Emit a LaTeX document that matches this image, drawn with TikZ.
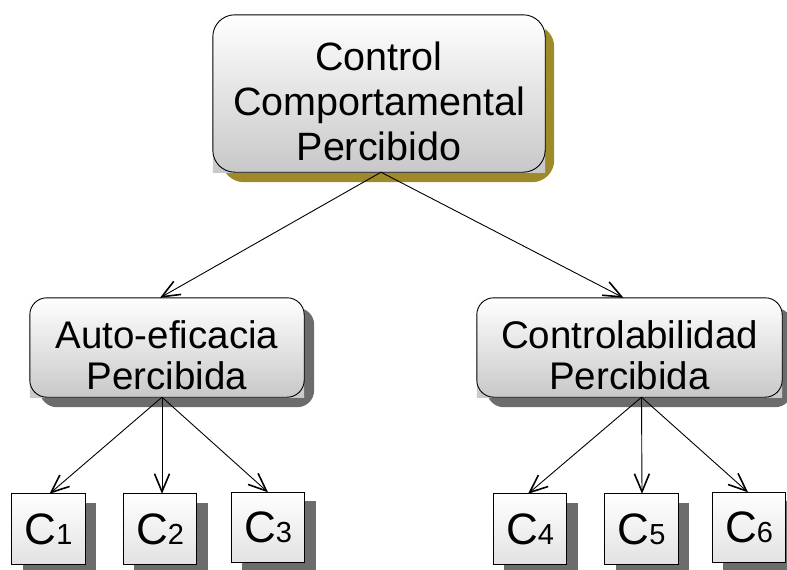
\documentclass[tikz,border=0pt]{standalone}
\usepackage{fontspec}
\setmainfont{Liberation Sans}
\usetikzlibrary{arrows.meta,backgrounds}

\definecolor{goldshadow}{RGB}{158,138,40}
\definecolor{greyshadow}{RGB}{108,108,108}
\definecolor{panelgrey}{RGB}{200,200,200}
\definecolor{cellgrey}{RGB}{226,226,226}

\tikzset{
  link/.style={line width=0.9pt, arrows={-Straight Barb[length=18pt, width=15pt, line width=1.6pt]}},
  boxline/.style={draw=black, line width=0.9pt},
  panel/.style={inner sep=0pt},
  bigtext/.style={inner sep=0pt, align=center, font=\fontsize{39.5}{45}\selectfont},
  midtext/.style={inner sep=0pt, align=center, font=\fontsize{38.5}{41}\selectfont},
  celltext/.style={inner sep=0pt, minimum width=73pt, minimum height=70pt}
}

% shadow, square gradient fill and (rounded) outline behind a node
\newcommand\drawpanel[6]{%
  \fill[#3, rounded corners=#2]
    ([shift={(#5,#6)}]#1.north west) rectangle ([shift={(#5,#6)}]#1.south east);
  \shade[top color=white, bottom color=#4] (#1.north west) rectangle (#1.south east);
  \draw[boxline, rounded corners=#2] (#1.north west) rectangle (#1.south east);
}

\begin{document}
\begin{tikzpicture}[x=1pt, y=-1pt]

\useasboundingbox (0,0) rectangle (787,570);

% top concept
\node[panel, minimum width=332pt, minimum height=157pt] (ccp) at (379,93.5) {};
\node[bigtext] (ccptext) at ([shift={(0,8)}]ccp.center)
  {Control\\Comportamental\\Percibido};

% second level
\node[panel, minimum width=274pt, minimum height=99pt] (auto) at (167,347.5) {};
\node[midtext] (autotext) at ([shift={(0,7.5)}]auto.center) {Auto-eficacia\\Percibida};
\node[panel, minimum width=305pt, minimum height=99pt] (ctrl) at (629.5,347.5) {};
\node[midtext] (ctrltext) at ([shift={(0,7.5)}]ctrl.center) {Controlabilidad\\Percibida};

% leaf cells
\newcommand\cellname[1]{{\fontsize{44}{44}\selectfont C}{\fontsize{29}{29}\selectfont #1}}
\node[celltext] (c1) at (48.5,529) {\cellname{1}};
\node[celltext] (c2) at (160,529) {\cellname{2}};
\node[celltext] (c3) at (268,527.5) {\cellname{3}};
\node[celltext] (c4) at (530,529) {\cellname{4}};
\node[celltext] (c5) at (641.5,529) {\cellname{5}};
\node[celltext] (c6) at (749,527.5) {\cellname{6}};

\begin{scope}[on background layer]
  \drawpanel{ccp}{22pt}{goldshadow}{panelgrey}{9}{10}
  \drawpanel{auto}{17pt}{greyshadow}{panelgrey}{10}{10}
  \drawpanel{ctrl}{17pt}{greyshadow}{panelgrey}{10}{10}
  \drawpanel{c1}{0pt}{greyshadow}{cellgrey}{11}{9}
  \drawpanel{c2}{0pt}{greyshadow}{cellgrey}{11}{9}
  \drawpanel{c3}{0pt}{greyshadow}{cellgrey}{11}{9}
  \drawpanel{c4}{0pt}{greyshadow}{cellgrey}{11}{9}
  \drawpanel{c5}{0pt}{greyshadow}{cellgrey}{11}{9}
  \drawpanel{c6}{0pt}{greyshadow}{cellgrey}{11}{9}
\end{scope}

% connectors
\draw[link] ([xshift=2pt]ccp.south) -- ([xshift=-7pt]auto.north);
\draw[link] ([xshift=2pt]ccp.south) -- ([xshift=-6pt]ctrl.north);
\draw[link] ([xshift=-5pt]auto.south) -- ([xshift=1pt]c1.north);
\draw[link] ([xshift=-5pt]auto.south) -- ([xshift=2pt]c2.north);
\draw[link] ([xshift=-5pt]auto.south) -- (c3.north);
\draw[link] ([xshift=12pt]ctrl.south) -- ([xshift=-2pt]c4.north);
\draw[link] ([xshift=12pt]ctrl.south) -- ([xshift=0.5pt]c5.north);
\draw[link] ([xshift=12pt]ctrl.south) -- ([xshift=-1pt]c6.north);
\end{tikzpicture}
\end{document}
